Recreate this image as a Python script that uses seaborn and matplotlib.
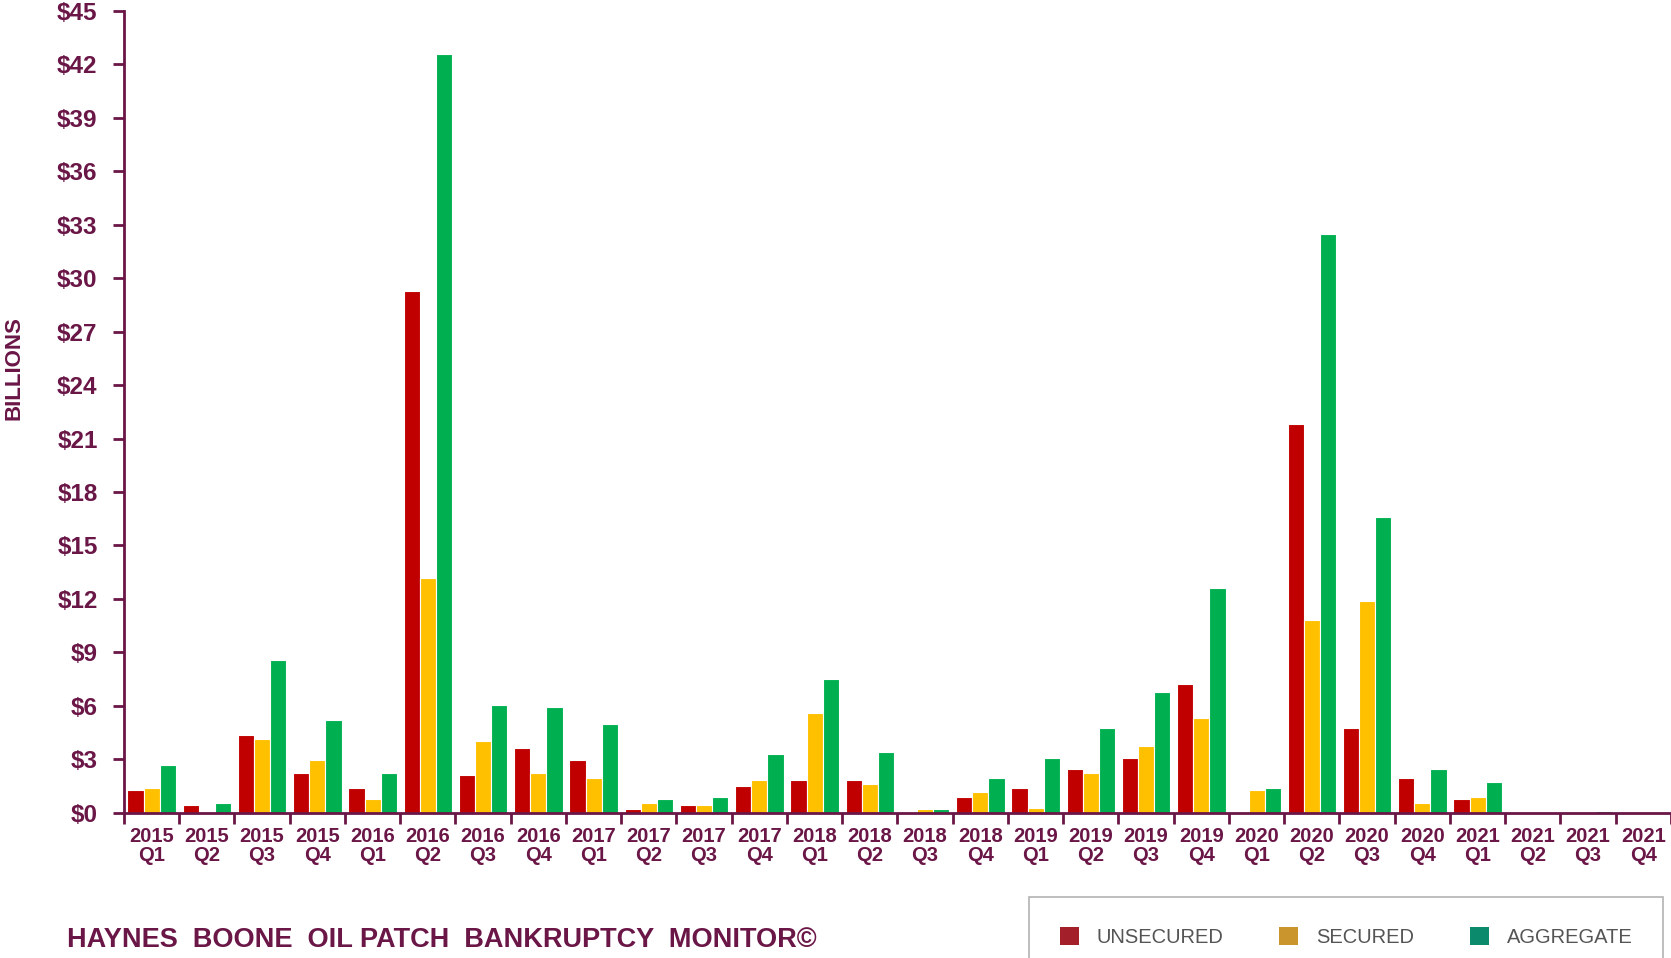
import numpy as np
import pandas as pd
import matplotlib
matplotlib.use("Agg")
import matplotlib.pyplot as plt
import matplotlib.patches as mpatches
from matplotlib.ticker import FixedLocator
import seaborn as sns

quarters = [f"{y}\nQ{q}" for y in range(2015, 2022) for q in range(1, 5)]
unsecured = [1.26, 0.42, 4.37, 2.2, 1.38, 29.3, 2.1, 3.65, 2.93, 0.18, 0.42, 1.5, 1.86, 1.86,
             0.02, 0.9, 1.38, 2.45, 3.05, 7.24, 0.0, 21.84, 4.73, 1.97, 0.78, 0.0, 0.0, 0.0]
secured = [1.38, 0.03, 4.13, 2.93, 0.78, 13.2, 4.0, 2.2, 1.97, 0.54, 0.42, 1.86, 5.57, 1.62,
           0.18, 1.14, 0.24, 2.2, 3.77, 5.33, 1.26, 10.83, 11.9, 0.54, 0.9, 0.0, 0.0, 0.0]
aggregate = [2.7, 0.54, 8.56, 5.2, 2.2, 42.6, 6.04, 5.92, 4.97, 0.78, 0.9, 3.3, 7.48, 3.41,
             0.18, 1.97, 3.05, 4.73, 6.76, 12.63, 1.38, 32.5, 16.58, 2.45, 1.74, 0.0, 0.12, 0.0]
series_names = ["UNSECURED", "SECURED", "AGGREGATE"]
yticks = list(range(0, 46, 3))

df = pd.DataFrame({
    "quarter": quarters * 3,
    "value": unsecured + secured + aggregate,
    "type": [series_names[0]] * 28 + [series_names[1]] * 28 + [series_names[2]] * 28,
})

sns.set_style("white")
plt.rcParams["font.family"] = ["Liberation Sans", "DejaVu Sans"]
purple = "#6A1646"
bar_colors = ["#C00000", "#FFC000", "#00B050"]
legend_colors = ["#A3202A", "#C9952C", "#0B8A6C"]

fig = plt.figure(figsize=(16.71, 9.58), dpi=100)
ax = fig.add_axes([0.0742, 0.1517, 0.9258, 0.8368])

sns.barplot(data=df, x="quarter", y="value", hue="type", palette=bar_colors, saturation=1,
            width=0.88, edgecolor="white", linewidth=0.8, ax=ax, legend=False)

ax.set_xlim(-0.5, 27.5)
ax.set_ylim(0, 45)
ax.set_yticks(yticks)
ax.set_yticklabels([f"${v}" for v in yticks], fontsize=17.5, fontweight="bold", color=purple)
ax.set_xticks(range(28))
ax.set_xticklabels(quarters, fontsize=14.5, fontweight="bold", color=purple, linespacing=1.0)
ax.xaxis.set_minor_locator(FixedLocator(np.arange(-0.5, 27.6, 1)))
ax.tick_params(axis="x", which="major", length=0, pad=10, bottom=True)
ax.tick_params(axis="x", which="minor", length=8, width=2, color=purple, direction="out", bottom=True)
ax.tick_params(axis="y", which="major", length=8, width=2, color=purple, direction="out", pad=11, left=True)
for s in ["top", "right"]:
    ax.spines[s].set_visible(False)
for s in ["left", "bottom"]:
    ax.spines[s].set_color(purple)
    ax.spines[s].set_linewidth(2)
ax.set_xlabel("")
ax.set_ylabel("BILLIONS", fontsize=16, fontweight="bold", color=purple)
ax.yaxis.set_label_coords(-0.064, 0.555)

fig.text(0.04, 0.019, "HAYNES  BOONE  OIL PATCH  BANKRUPTCY  MONITOR\u00a9",
         fontsize=19.5, fontweight="bold", color=purple, ha="left", va="center")

handles = [mpatches.Patch(facecolor=c, edgecolor="none", label=n)
           for c, n in zip(legend_colors, series_names)]
leg = fig.legend(handles=handles, loc="upper left", bbox_to_anchor=(0.616, 0.0637),
                 ncol=3, frameon=True, fontsize=14.5, handlelength=0.95, handleheight=0.95,
                 columnspacing=2.75, handletextpad=0.9, borderpad=1.5, fancybox=False,
                 borderaxespad=0)
leg.get_frame().set_edgecolor("#A0A0A0")
leg.get_frame().set_linewidth(1.2)
for t in leg.get_texts():
    t.set_color("#555555")

fig.savefig("out.png", dpi=100)
